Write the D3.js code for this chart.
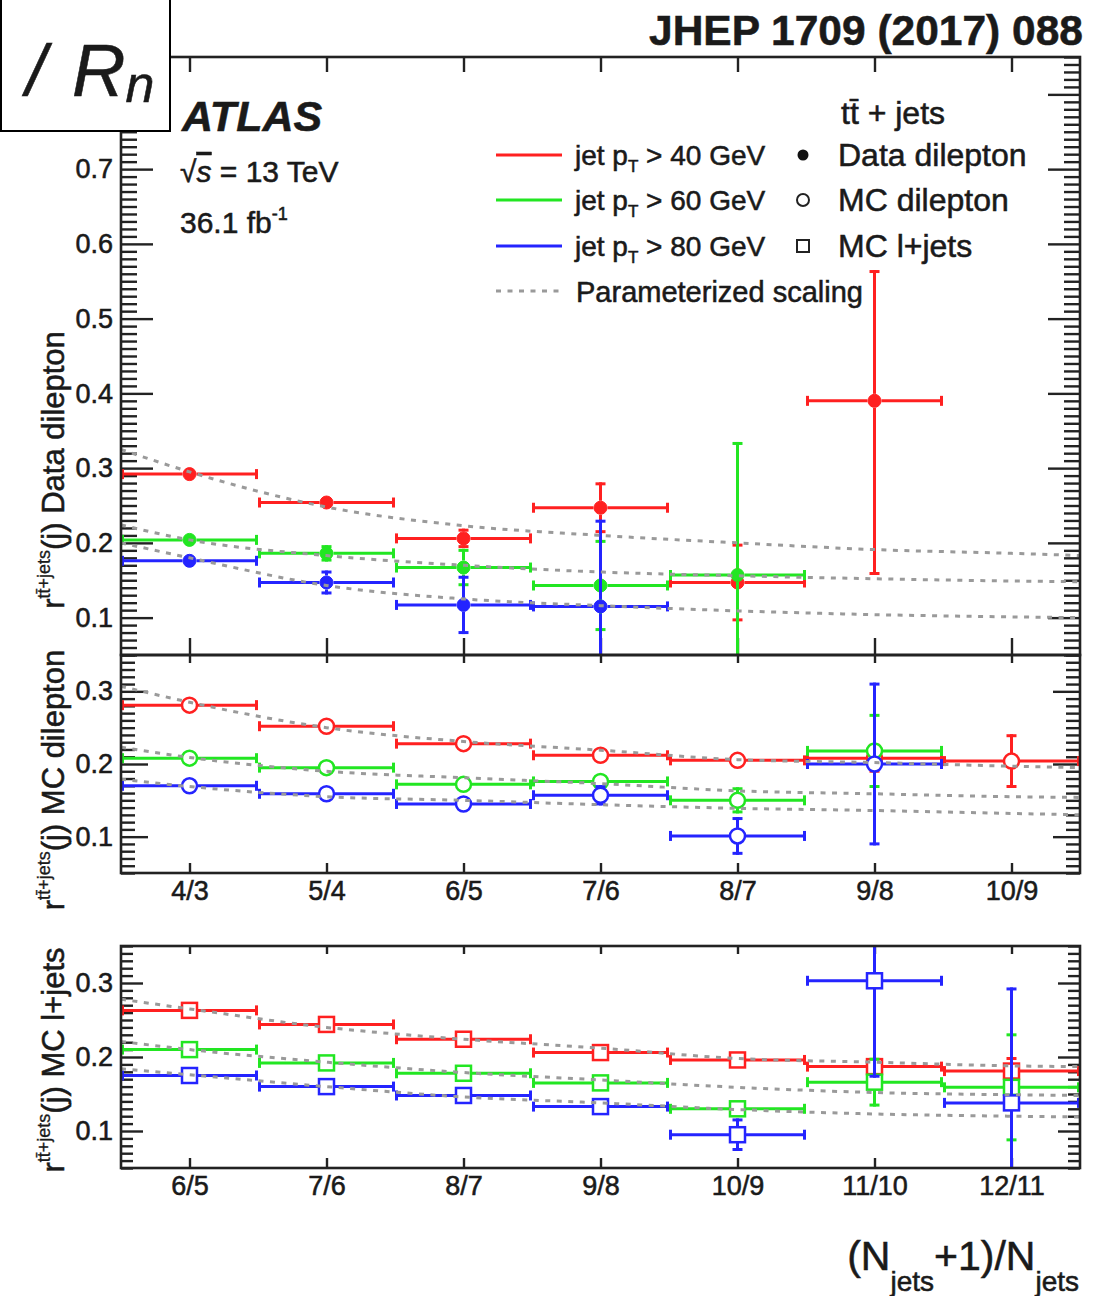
<!DOCTYPE html>
<html>
<head>
<meta charset="utf-8">
<script src="https://cdn.jsdelivr.net/npm/d3@7"></script>
<style>
  body { margin: 0; background: #fff; }
  svg { display: block; }
  text { font-family: 'Liberation Sans', Arial, Helvetica, sans-serif; fill: #1a1a1a; stroke: #1a1a1a; stroke-width: 0.55px; }
</style>
</head>
<body>
<svg id="chart" width="1106" height="1296"></svg>
<script>
// ---- categories ----
const binsDilep = ["4/3", "5/4", "6/5", "7/6", "8/7", "9/8", "10/9"];
const binsLjets = ["6/5", "7/6", "8/7", "9/8", "10/9", "11/10", "12/11"];

// ---- tick values ----
const yTicksTop = [0.1, 0.2, 0.3, 0.4, 0.5, 0.6, 0.7, 0.8];
const yLabelsTop = [0.1, 0.2, 0.3, 0.4, 0.5, 0.6, 0.7];
const yTicksLow = [0.1, 0.2, 0.3];

// ---- Data dilepton (r = N(n+1)/N(n)) ----
const dataDilep40 = [0.292, 0.254, 0.206, 0.247, 0.147, 0.390, null];
const dataDilep40Lo = [0.004, 0.005, 0.013, 0.034, 0.052, 0.233, null];
const dataDilep40Hi = [0.004, 0.005, 0.013, 0.034, 0.052, 0.175, null];
const dataDilep60 = [0.204, 0.186, 0.167, 0.143, 0.157, null, null];
const dataDilep60Err = [0.005, 0.011, 0.025, 0.061, 0.178, null, null];
const dataDilep80 = [0.176, 0.147, 0.117, 0.115, null, null, null];
const dataDilep80Err = [0.004, 0.016, 0.039, 0.116, null, null, null];

// ---- MC dilepton ----
const mcDilep40 = [0.281, 0.252, 0.228, 0.212, 0.205, 0.208, 0.204];
const mcDilep40Err = [0.003, 0.003, 0.003, 0.004, 0.006, 0.020, 0.037];
const mcDilep60 = [0.208, 0.195, 0.172, 0.176, 0.150, 0.218, null];
const mcDilep60Err = [0.003, 0.003, 0.004, 0.006, 0.018, 0.051, null];
const mcDilep80 = [0.170, 0.159, 0.145, 0.157, 0.101, 0.200, null];
const mcDilep80Err = [0.003, 0.003, 0.004, 0.014, 0.026, 0.112, null];

// ---- MC l+jets ----
const mcLjets40 = [0.263, 0.244, 0.224, 0.206, 0.196, 0.187, 0.181];
const mcLjets40Err = [0.003, 0.003, 0.003, 0.004, 0.005, 0.008, 0.019];
const mcLjets60 = [0.210, 0.192, 0.178, 0.165, 0.130, 0.166, 0.159];
const mcLjets60Err = [0.003, 0.003, 0.003, 0.004, 0.005, 0.033, 0.073];
const mcLjets80 = [0.175, 0.160, 0.148, 0.133, 0.095, 0.303, 0.138];
const mcLjets80Err = [0.003, 0.003, 0.004, 0.005, 0.022, 0.131, 0.156];

// ---- parameterized scaling, sampled along the bin axis ----
const scaleX = [0, 0.5, 1.5, 2.5, 3.5, 4.5, 5.5, 6.5, 7];
const scaleData40 = [0.325, 0.295, 0.248, 0.223, 0.210, 0.200, 0.191, 0.186, 0.183];
const scaleData60 = [0.224, 0.204, 0.183, 0.170, 0.161, 0.156, 0.152, 0.149, 0.148];
const scaleData80 = [0.200, 0.180, 0.143, 0.125, 0.116, 0.109, 0.104, 0.101, 0.100];
const scaleMcDilep40 = [0.307, 0.285, 0.250, 0.231, 0.219, 0.206, 0.202, 0.197, 0.195];
const scaleMcDilep60 = [0.223, 0.209, 0.190, 0.181, 0.173, 0.163, 0.159, 0.155, 0.154];
const scaleMcDilep80 = [0.179, 0.169, 0.155, 0.150, 0.144, 0.139, 0.136, 0.132, 0.130];
const scaleLjets40 = [0.278, 0.265, 0.240, 0.224, 0.212, 0.198, 0.193, 0.188, 0.187];
const scaleLjets60 = [0.221, 0.210, 0.193, 0.179, 0.169, 0.159, 0.152, 0.149, 0.148];
const scaleLjets80 = [0.184, 0.176, 0.160, 0.146, 0.138, 0.129, 0.123, 0.120, 0.119];

// ---- legend ----
const legendPt = ["40", "60", "80"];
const legendSamples = ["Data dilepton", "MC dilepton", "MC l+jets"];

const colors = ["#ff2020", "#22e622", "#2424ff"];
const curveColor = "#9a9a9a";
const axisColor = "#222";

const svg = d3.select("#chart");
svg.append("rect").attr("width", 1106).attr("height", 1296).attr("fill", "#fff");

const X0 = 121, X1 = 1080;
const x = d3.scaleLinear().domain([0, 7]).range([X0, X1]);
const centers = d3.range(7).map(i => i + 0.5);

const panels = [
  {
    id: "p1", top: 57, bottom: 655, domain: [0.05, 0.85], yTicks: yTicksTop, yLabels: yLabelsTop,
    majLen: 32, minLen: 16, xLenBottom: 17, xLenTop: 15, cats: null,
    marker: "dot", title: "(j) Data dilepton", titleY: 470,
    series: [
      { v: dataDilep40, lo: dataDilep40Lo, hi: dataDilep40Hi },
      { v: dataDilep60, lo: dataDilep60Err, hi: dataDilep60Err },
      { v: dataDilep80, lo: dataDilep80Err, hi: dataDilep80Err }
    ],
    curves: [scaleData40, scaleData60, scaleData80]
  },
  {
    id: "p2", top: 655, bottom: 873, domain: [0.05, 0.35], yTicks: yTicksLow, yLabels: yTicksLow,
    majLen: 27, minLen: 14, xLenBottom: 10, xLenTop: 8, cats: binsDilep,
    marker: "circle", title: "(j) MC dilepton", titleY: 780,
    series: [
      { v: mcDilep40, lo: mcDilep40Err, hi: mcDilep40Err },
      { v: mcDilep60, lo: mcDilep60Err, hi: mcDilep60Err },
      { v: mcDilep80, lo: mcDilep80Err, hi: mcDilep80Err }
    ],
    curves: [scaleMcDilep40, scaleMcDilep60, scaleMcDilep80]
  },
  {
    id: "p3", top: 946, bottom: 1168, domain: [0.05, 0.35], yTicks: yTicksLow, yLabels: yTicksLow,
    majLen: 22, minLen: 12, xLenBottom: 10, xLenTop: 8, cats: binsLjets,
    marker: "square", title: "(j) MC l+jets", titleY: 1060,
    series: [
      { v: mcLjets40, lo: mcLjets40Err, hi: mcLjets40Err },
      { v: mcLjets60, lo: mcLjets60Err, hi: mcLjets60Err },
      { v: mcLjets80, lo: mcLjets80Err, hi: mcLjets80Err }
    ],
    curves: [scaleLjets40, scaleLjets60, scaleLjets80]
  }
];

const defs = svg.append("defs");

function styleAxis(g) {
  g.select(".domain").remove();
  g.selectAll(".tick line").attr("stroke", axisColor).attr("stroke-width", 2.4);
  g.selectAll(".tick text").attr("font-size", 27).attr("fill", "#1a1a1a")
    .attr("font-family", "'Liberation Sans', Arial, Helvetica, sans-serif");
}

panels.forEach(p => {
  const y = d3.scaleLinear().domain(p.domain).range([p.bottom, p.top]);
  const minor = d3.range(Math.round(p.domain[0] * 100), Math.round(p.domain[1] * 100) + 1)
    .map(k => k / 100).filter(t => !p.yTicks.some(m => Math.abs(m - t) < 1e-9));
  const unlabeled = p.yTicks.filter(t => !p.yLabels.includes(t));

  defs.append("clipPath").attr("id", "clip-" + p.id)
    .append("rect").attr("x", X0).attr("y", p.top)
    .attr("width", X1 - X0).attr("height", p.bottom - p.top);

  // y axes (left with labels, right mirrored)
  svg.append("g").attr("transform", `translate(${X0},0)`)
    .call(d3.axisLeft(y).tickValues(minor).tickSize(-p.minLen).tickFormat(""))
    .call(styleAxis);
  svg.append("g").attr("transform", `translate(${X0},0)`)
    .call(d3.axisLeft(y).tickValues(p.yLabels).tickSize(-p.majLen).tickPadding(8)
      .tickFormat(d3.format(".1f")))
    .call(styleAxis);
  if (unlabeled.length) {
    svg.append("g").attr("transform", `translate(${X0},0)`)
      .call(d3.axisLeft(y).tickValues(unlabeled).tickSize(-p.majLen).tickFormat(""))
      .call(styleAxis);
  }
  svg.append("g").attr("transform", `translate(${X1},0)`)
    .call(d3.axisRight(y).tickValues(minor).tickSize(-p.minLen).tickFormat(""))
    .call(styleAxis);
  svg.append("g").attr("transform", `translate(${X1},0)`)
    .call(d3.axisRight(y).tickValues(p.yTicks).tickSize(-p.majLen).tickFormat(""))
    .call(styleAxis);

  // x axes (bottom with category labels, top mirrored)
  svg.append("g").attr("transform", `translate(0,${p.bottom})`)
    .call(d3.axisBottom(x).tickValues(centers).tickSize(-p.xLenBottom).tickPadding(8)
      .tickFormat(d => p.cats ? p.cats[Math.floor(d)] : ""))
    .call(styleAxis);
  svg.append("g").attr("transform", `translate(0,${p.top})`)
    .call(d3.axisTop(x).tickValues(centers).tickSize(-p.xLenTop).tickFormat(""))
    .call(styleAxis);

  const plot = svg.append("g").attr("clip-path", `url(#clip-${p.id})`);

  // error bars and markers, one series at a time
  p.series.forEach((s, si) => {
    const col = colors[si];
    const g = plot.append("g").attr("stroke", col).attr("fill", "none").attr("stroke-width", 3);
    const r = p.marker === "dot" ? 7 : 8;
    const cap = 5;
    s.v.forEach((v, i) => {
      if (v == null) return;
      const cx = x(i + 0.5), cy = y(v);
      const xl = x(i), xr = x(i + 1);
      // horizontal bin width bar with end caps
      g.append("line").attr("x1", xl).attr("x2", cx - r).attr("y1", cy).attr("y2", cy);
      g.append("line").attr("x1", cx + r).attr("x2", xr).attr("y1", cy).attr("y2", cy);
      g.append("line").attr("x1", xl + 1.5).attr("x2", xl + 1.5).attr("y1", cy - cap).attr("y2", cy + cap);
      g.append("line").attr("x1", xr - 1.5).attr("x2", xr - 1.5).attr("y1", cy - cap).attr("y2", cy + cap);
      // vertical uncertainty
      const yt = y(v + s.hi[i]), yb = y(v - s.lo[i]);
      if (cy - yt > r + 1) {
        g.append("line").attr("x1", cx).attr("x2", cx).attr("y1", yt).attr("y2", cy - r);
        g.append("line").attr("x1", cx - cap).attr("x2", cx + cap).attr("y1", yt + 1.5).attr("y2", yt + 1.5);
      }
      if (yb - cy > r + 1) {
        g.append("line").attr("x1", cx).attr("x2", cx).attr("y1", cy + r).attr("y2", yb);
        g.append("line").attr("x1", cx - cap).attr("x2", cx + cap).attr("y1", yb - 1.5).attr("y2", yb - 1.5);
      }
      if (p.marker === "dot") {
        g.append("circle").attr("cx", cx).attr("cy", cy).attr("r", 6.5)
          .attr("fill", col).attr("stroke", col).attr("stroke-width", 1);
      } else if (p.marker === "circle") {
        g.append("circle").attr("cx", cx).attr("cy", cy).attr("r", 7.5)
          .attr("fill", "#fff").attr("stroke-width", 2.5);
      } else {
        g.append("rect").attr("x", cx - 7.5).attr("y", cy - 7.5).attr("width", 15).attr("height", 15)
          .attr("fill", "#fff").attr("stroke-width", 2.5);
      }
    });
  });

  // parameterized scaling curves drawn over the points
  const line = d3.line().x(d => x(d[0])).y(d => y(d[1])).curve(d3.curveMonotoneX);
  p.curves.forEach(c => {
    plot.append("path").attr("d", line(scaleX.map((sx, k) => [sx, c[k]])))
      .attr("fill", "none").attr("stroke", curveColor).attr("stroke-width", 3)
      .attr("stroke-dasharray", "5,6.5");
  });

  // frame
  svg.append("rect").attr("x", X0).attr("y", p.top).attr("width", X1 - X0)
    .attr("height", p.bottom - p.top).attr("fill", "none")
    .attr("stroke", axisColor).attr("stroke-width", 2.6);

  // y title
  const t = svg.append("text")
    .attr("transform", `translate(64,${p.titleY}) rotate(-90)`)
    .attr("text-anchor", "middle").attr("font-size", 31);
  t.append("tspan").text("r");
  t.append("tspan").attr("font-size", 18).attr("dy", -14).attr("stroke-width", 0.3).text("tt\u0304+jets");
  t.append("tspan").attr("dy", 14).text(p.title);
});

// ---- ATLAS label ----
svg.append("text").attr("x", 182).attr("y", 131).attr("font-size", 43)
  .attr("font-weight", "bold").attr("font-style", "italic").text("ATLAS");
const sq = svg.append("text").attr("x", 180).attr("y", 182).attr("font-size", 30);
sq.append("tspan").text("\u221A");
sq.append("tspan").attr("font-style", "italic").attr("text-decoration", "overline").text("s");
sq.append("tspan").text(" = 13 TeV");
const lum = svg.append("text").attr("x", 180).attr("y", 233).attr("font-size", 30);
lum.append("tspan").text("36.1 fb");
lum.append("tspan").attr("font-size", 18).attr("dy", -13).text("-1");

// ---- legend ----
const lg = svg.append("g");
lg.append("text").attr("x", 841).attr("y", 124).attr("font-size", 32).text("tt\u0304 + jets");
const rowY = [155, 200, 246];
legendPt.forEach((pt, i) => {
  lg.append("line").attr("x1", 496).attr("x2", 562).attr("y1", rowY[i]).attr("y2", rowY[i])
    .attr("stroke", colors[i]).attr("stroke-width", 3);
  const tx = lg.append("text").attr("x", 575).attr("y", rowY[i] + 10).attr("font-size", 28);
  tx.append("tspan").text("jet p");
  tx.append("tspan").attr("font-size", 17).attr("dy", 7).text("T");
  tx.append("tspan").attr("dy", -7).text(` > ${pt} GeV`);
  lg.append("text").attr("x", 838).attr("y", rowY[i] + 11).attr("font-size", 32).text(legendSamples[i]);
});
lg.append("circle").attr("cx", 803).attr("cy", rowY[0]).attr("r", 5.5).attr("fill", "#111");
lg.append("circle").attr("cx", 803).attr("cy", rowY[1]).attr("r", 6).attr("fill", "#fff")
  .attr("stroke", "#222").attr("stroke-width", 2);
lg.append("rect").attr("x", 797).attr("y", rowY[2] - 6).attr("width", 12).attr("height", 12)
  .attr("fill", "#fff").attr("stroke", "#222").attr("stroke-width", 2);
lg.append("line").attr("x1", 496).attr("x2", 562).attr("y1", 291).attr("y2", 291)
  .attr("stroke", curveColor).attr("stroke-width", 3).attr("stroke-dasharray", "5,6.5");
lg.append("text").attr("x", 576).attr("y", 302).attr("font-size", 29).text("Parameterized scaling");

// ---- x title ----
const xt = svg.append("text").attr("x", 1079).attr("y", 1270).attr("text-anchor", "end").attr("font-size", 41);
xt.append("tspan").text("(N");
xt.append("tspan").attr("font-size", 28).attr("dy", 21).text("jets");
xt.append("tspan").attr("dy", -21).text("+1)/N");
xt.append("tspan").attr("font-size", 28).attr("dy", 21).text("jets");

// ---- reference header ----
svg.append("text").attr("x", 1083).attr("y", 45).attr("text-anchor", "end")
  .attr("font-size", 42.5).attr("font-weight", "bold").attr("fill", "#000").text("JHEP 1709 (2017) 088");

const box = svg.append("g");
box.append("rect").attr("x", 1).attr("y", -2).attr("width", 169).attr("height", 133)
  .attr("fill", "#fff").attr("stroke", "#000").attr("stroke-width", 2);
const rnFont = "'Open Sans', 'Noto Sans', sans-serif";
box.append("text").attr("x", 26).attr("y", 96).attr("font-size", 72).attr("font-style", "italic")
  .attr("font-family", rnFont).attr("fill", "#000").attr("stroke", "none").text("/");
const rn = box.append("text").attr("x", 72).attr("y", 96).attr("font-size", 74)
  .attr("font-style", "italic").attr("font-family", rnFont).attr("fill", "#000").attr("stroke", "none");
rn.append("tspan").text("R");
rn.append("tspan").attr("font-size", 52).attr("dy", 6).text("n");
</script>
</body>
</html>
